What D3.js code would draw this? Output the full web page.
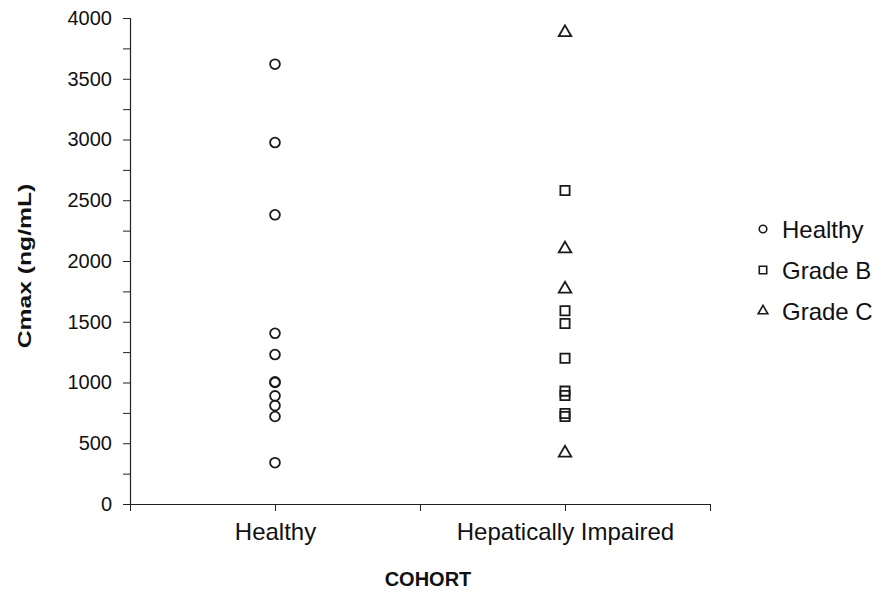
<!DOCTYPE html>
<html>
<head>
<meta charset="utf-8">
<script src="https://cdn.jsdelivr.net/npm/d3@7"></script>
<style>
  body { margin: 0; background: #fff; }
  text { font-family: "Liberation Sans", Arial, sans-serif; fill: #111; }
</style>
</head>
<body>
<div id="chart"></div>
<script>
// Cohort positions on the x axis (0..4 scale, ticks at every unit)
const cohorts = [
  { name: 'Healthy', pos: 1 },
  { name: 'Hepatically Impaired', pos: 3 }
];

// Cmax values (ng/mL)
const healthyValues = [3620, 2975, 2380, 1405, 1230, 1005, 1000, 890, 810, 720, 340];
const gradeBValues = [2580, 1590, 1485, 1200, 929, 893, 745, 720];
const gradeCValues = [3880, 2100, 1770, 420];

const yTicks = d3.range(0, 4001, 250);
const xTicks = [0, 1, 2, 3, 4];

const legendItems = ['Healthy', 'Grade B', 'Grade C'];

const width = 887;
const height = 597;

const svg = d3.select('#chart')
  .append('svg')
  .attr('width', width)
  .attr('height', height);

const x = d3.scaleLinear().domain([0, 4]).range([130, 710]);
const y = d3.scaleLinear().domain([0, 4000]).range([504, 18]);

// Y axis
const yAxis = svg.append('g')
  .attr('transform', `translate(${x(0)}, 0)`)
  .call(d3.axisLeft(y)
    .tickValues(yTicks)
    .tickSize(7)
    .tickPadding(11)
    .tickFormat(d => d % 500 === 0 ? d : ''));
yAxis.select('.domain').attr('stroke', '#222').attr('stroke-width', 1.2);
yAxis.selectAll('line').attr('stroke', '#222');
yAxis.selectAll('text')
  .attr('font-size', '20px')
  .attr('fill', '#111');

// X axis
const xAxis = svg.append('g')
  .attr('transform', `translate(0, ${y(0)})`)
  .call(d3.axisBottom(x)
    .tickValues(xTicks)
    .tickSize(7)
    .tickSizeOuter(0)
    .tickPadding(12)
    .tickFormat(d => {
      const c = cohorts.find(c => c.pos === d);
      return c ? c.name : '';
    }));
xAxis.select('.domain').attr('stroke', '#222').attr('stroke-width', 1.2);
xAxis.selectAll('line').attr('stroke', '#222');
xAxis.selectAll('text')
  .attr('font-size', '24px')
  .attr('fill', '#111');

// Axis titles
svg.append('text')
  .attr('transform', `translate(31, 266) rotate(-90) scale(1.3, 1)`)
  .attr('text-anchor', 'middle')
  .attr('font-size', '19px')
  .attr('font-weight', 'bold')
  .text('Cmax (ng/mL)');

svg.append('text')
  .attr('x', 428)
  .attr('y', 586)
  .attr('text-anchor', 'middle')
  .attr('font-size', '20px')
  .attr('font-weight', 'bold')
  .text('COHORT');

// Markers
const markerStroke = '#1a1a1a';
const circleSym = d3.symbol().type(d3.symbolCircle).size(75);
const squareSym = d3.symbol().type(d3.symbolSquare).size(85);
const triangleSym = d3.symbol().type(d3.symbolTriangle).size(68);

function drawPoints(values, cohortPos, sym) {
  svg.append('g')
    .selectAll('path')
    .data(values)
    .join('path')
    .attr('d', sym)
    .attr('transform', d => `translate(${x(cohortPos)}, ${y(d)})`)
    .attr('fill', 'none')
    .attr('stroke', markerStroke)
    .attr('stroke-width', 1.8);
}

drawPoints(healthyValues, cohorts[0].pos, circleSym);
drawPoints(gradeBValues, cohorts[1].pos, squareSym);
drawPoints(gradeCValues, cohorts[1].pos, triangleSym);

// Legend
const legendSyms = [
  d3.symbol().type(d3.symbolCircle).size(45),
  d3.symbol().type(d3.symbolSquare).size(55),
  d3.symbol().type(d3.symbolTriangle).size(40)
];
const legend = svg.append('g').attr('transform', 'translate(763, 229)');
legendItems.forEach((name, i) => {
  const g = legend.append('g').attr('transform', `translate(0, ${i * 41})`);
  g.append('path')
    .attr('d', legendSyms[i])
    .attr('fill', 'none')
    .attr('stroke', markerStroke)
    .attr('stroke-width', 1.6);
  g.append('text')
    .attr('x', 19)
    .attr('dy', '0.36em')
    .attr('font-size', '24px')
    .text(name);
});
</script>
</body>
</html>
